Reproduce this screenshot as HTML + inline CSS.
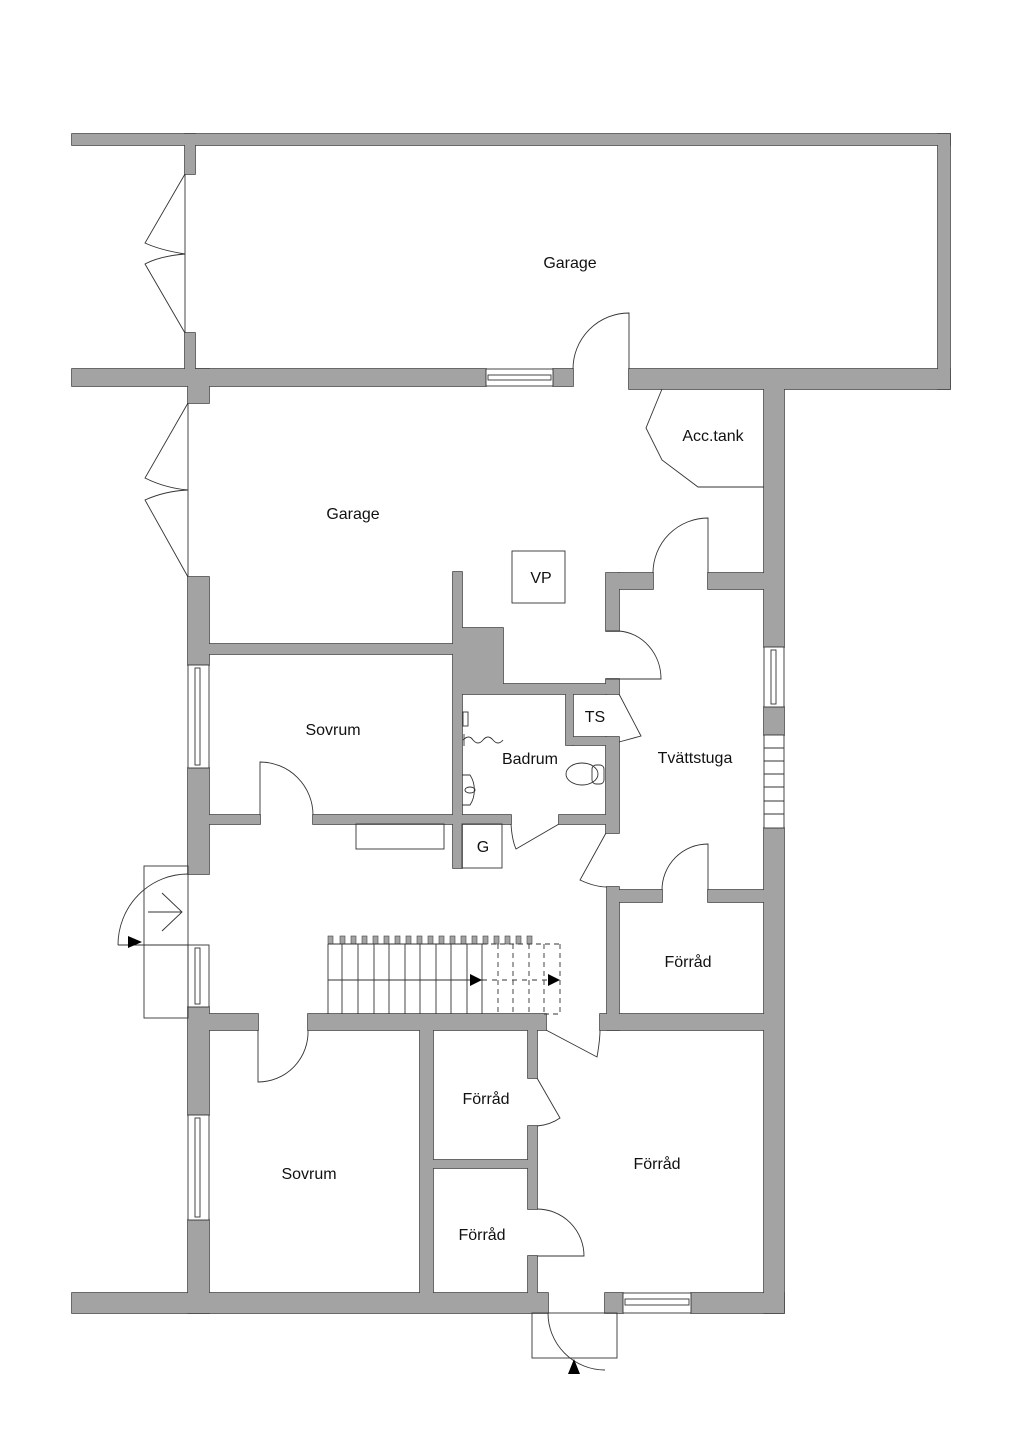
<!DOCTYPE html>
<html><head><meta charset="utf-8"><style>
html,body{margin:0;padding:0;background:#fff;}
svg{display:block;}
text{font-family:"Liberation Sans",sans-serif;font-size:16px;fill:#111;text-anchor:middle;}
</style></head><body>
<svg width="1024" height="1448" viewBox="0 0 1024 1448" xmlns="http://www.w3.org/2000/svg" xmlns:xlink="http://www.w3.org/1999/xlink">
<defs>
<g id="w">
<rect x="72" y="134" width="878" height="11"/>
<rect x="938" y="134" width="12" height="255"/>
<rect x="185" y="134" width="10" height="40"/>
<rect x="185" y="333" width="10" height="40"/>
<rect x="72" y="369" width="414" height="17"/>
<rect x="553" y="369" width="20" height="17"/>
<rect x="629" y="369" width="321" height="20"/>
<rect x="188" y="369" width="21" height="34"/>
<rect x="764" y="386" width="20" height="261"/>
<rect x="764" y="707" width="20" height="28"/>
<rect x="764" y="828" width="20" height="485"/>
<rect x="188" y="577" width="21" height="88"/>
<rect x="188" y="768" width="21" height="106"/>
<rect x="188" y="1007" width="21" height="108"/>
<rect x="188" y="1220" width="21" height="93"/>
<rect x="72" y="1293" width="476" height="20"/>
<rect x="605" y="1293" width="18" height="20"/>
<rect x="691" y="1293" width="93" height="20"/>
<rect x="209" y="644" width="244" height="10"/>
<rect x="453" y="572" width="9" height="296"/>
<rect x="462" y="628" width="41" height="56"/>
<rect x="462" y="684" width="144" height="10"/>
<rect x="606" y="573" width="13" height="58"/>
<rect x="619" y="573" width="34" height="16"/>
<rect x="708" y="573" width="56" height="16"/>
<rect x="606" y="679" width="13" height="15"/>
<rect x="566" y="694" width="7" height="51"/>
<rect x="573" y="737" width="33" height="8"/>
<rect x="606" y="737" width="13" height="96"/>
<rect x="209" y="815" width="51" height="9"/>
<rect x="313" y="815" width="140" height="9"/>
<rect x="462" y="815" width="49" height="9"/>
<rect x="559" y="815" width="47" height="9"/>
<rect x="607" y="887" width="12" height="143"/>
<rect x="619" y="890" width="43" height="12"/>
<rect x="708" y="890" width="56" height="12"/>
<rect x="209" y="1014" width="49" height="16"/>
<rect x="308" y="1014" width="238" height="16"/>
<rect x="600" y="1014" width="164" height="16"/>
<rect x="420" y="1030" width="13" height="263"/>
<rect x="433" y="1160" width="95" height="8"/>
<rect x="528" y="1030" width="9" height="48"/>
<rect x="528" y="1126" width="9" height="83"/>
<rect x="528" y="1256" width="9" height="37"/>
</g>
</defs>
<use xlink:href="#w" href="#w" fill="#444" stroke="#444" stroke-width="1.6"/>
<use xlink:href="#w" href="#w" fill="#a3a3a3"/>
<g fill="none" stroke="#333" stroke-width="0.9">
<line x1="185" y1="174" x2="185" y2="333"/>
<path d="M185 174 L145 243 Q160 250 185 254 Q160 256 145 264 L185 333"/>
<line x1="188" y1="403" x2="188" y2="577"/>
<path d="M188 403 L145 478 Q165 488 188 490 Q165 491 145 500 L188 577"/>
<rect x="486" y="369" width="67" height="17" fill="#fff"/>
<rect x="488" y="375" width="63" height="5"/>
<rect x="623" y="1293" width="68" height="20" fill="#fff"/>
<rect x="625" y="1299" width="64" height="6"/>
<rect x="188" y="665" width="21" height="103" fill="#fff"/>
<rect x="195" y="668" width="5" height="97"/>
<rect x="188" y="945" width="21" height="62" fill="#fff"/>
<rect x="195" y="948" width="5" height="56"/>
<rect x="188" y="1115" width="21" height="105" fill="#fff"/>
<rect x="195" y="1118" width="5" height="99"/>
<rect x="764" y="647" width="20" height="60" fill="#fff"/>
<rect x="771" y="650" width="5" height="54"/>
<rect x="764" y="735" width="20" height="93" fill="#fff"/>
<path d="M764 748H784M764 761H784M764 774H784M764 787H784M764 801H784M764 814H784"/>
<path d="M629 369 V313 A56 56 0 0 0 573 369"/>
<path d="M662 389 L646 428 L662 460 L698 487 L764 487"/>
<rect x="512" y="551" width="53" height="52"/>
<path d="M708 573 V518 A55 55 0 0 0 653 573"/>
<path d="M606 631 H619 A45 48 0 0 1 661 679 H606"/>
<path d="M619 694 L641 736 L619 742"/>
<path d="M260 815 V762 A53 53 0 0 1 313 815"/>
<rect x="356" y="824" width="88" height="25"/>
<rect x="462" y="824" width="40" height="44"/>
<path d="M511 824 Q512 840 516 849 L559 824"/>
<path d="M606 833 L580 880 Q595 887 607 887"/>
<path d="M662 890 A46 46 0 0 1 708 844 V890"/>
<path d="M462 775 H470 A18 23 0 0 1 470 805 H462"/>
<ellipse cx="470" cy="790" rx="5" ry="3"/>
<path d="M463 740 q6 -6 10 0 q5 6 10 0 q5 -6 10 0 q5 6 10 0"/>
<line x1="464" y1="734" x2="464" y2="746"/>
<rect x="463" y="712" width="5" height="14"/>
<ellipse cx="582" cy="774" rx="16" ry="11"/>
<rect x="592" y="765" width="12" height="19" rx="4"/>
<rect x="144" y="866" width="44" height="152"/>
<path d="M118 945 A70 71 0 0 1 188 874"/>
<line x1="118" y1="945" x2="188" y2="945"/>
<path d="M148 912 H182 M162 893 L182 912 L162 931"/>
<g fill="#a3a3a3" stroke="#444" stroke-width="0.6">
<rect x="328" y="936" width="5" height="8"/><rect x="340" y="936" width="5" height="8"/><rect x="351" y="936" width="5" height="8"/><rect x="362" y="936" width="5" height="8"/><rect x="373" y="936" width="5" height="8"/><rect x="384" y="936" width="5" height="8"/><rect x="395" y="936" width="5" height="8"/><rect x="406" y="936" width="5" height="8"/><rect x="417" y="936" width="5" height="8"/><rect x="428" y="936" width="5" height="8"/><rect x="439" y="936" width="5" height="8"/><rect x="450" y="936" width="5" height="8"/><rect x="461" y="936" width="5" height="8"/><rect x="472" y="936" width="5" height="8"/><rect x="483" y="936" width="5" height="8"/><rect x="494" y="936" width="5" height="8"/><rect x="505" y="936" width="5" height="8"/><rect x="516" y="936" width="5" height="8"/><rect x="527" y="936" width="5" height="8"/>
</g>
<path d="M328 944 V1014 M342 944 V1014 M358 944 V1014 M374 944 V1014 M389 944 V1014 M405 944 V1014 M420 944 V1014 M436 944 V1014 M451 944 V1014 M467 944 V1014 M482 944 V1014 M328 944 H482"/>
<path stroke-dasharray="5,4" d="M498 944 V1014 M513 944 V1014 M529 944 V1014 M544 944 V1014 M560 944 V1014 M482 944 H560 M544 1014 H560"/>
<line x1="328" y1="980" x2="482" y2="980"/>
<line x1="482" y1="980" x2="548" y2="980" stroke-dasharray="5,5"/>
<path d="M258 1030 V1082 A50 50 0 0 0 308 1030"/>
<path d="M546 1030 L597 1057 Q600 1040 600 1030"/>
<path d="M537 1078 L560 1118 Q550 1125 537 1126"/>
<path d="M537 1209 A47 47 0 0 1 584 1256 H537"/>
<rect x="532" y="1313" width="85" height="45"/>
<path d="M548 1313 A57 57 0 0 0 605 1370"/>
</g>
<g fill="#000">
<polygon points="128,936 142,942 128,948"/>
<polygon points="470,974 482,980 470,986"/>
<polygon points="548,974 560,980 548,986"/>
<polygon points="574,1359 568,1374 580,1374"/>
</g>
<text x="570" y="268">Garage</text>
<text x="353" y="519">Garage</text>
<text x="713" y="441">Acc.tank</text>
<text x="541" y="583">VP</text>
<text x="333" y="735">Sovrum</text>
<text x="530" y="764">Badrum</text>
<text x="595" y="722">TS</text>
<text x="695" y="763">Tvättstuga</text>
<text x="483" y="852">G</text>
<text x="688" y="967">Förråd</text>
<text x="486" y="1104">Förråd</text>
<text x="657" y="1169">Förråd</text>
<text x="309" y="1179">Sovrum</text>
<text x="482" y="1240">Förråd</text>
</svg>
</body></html>
